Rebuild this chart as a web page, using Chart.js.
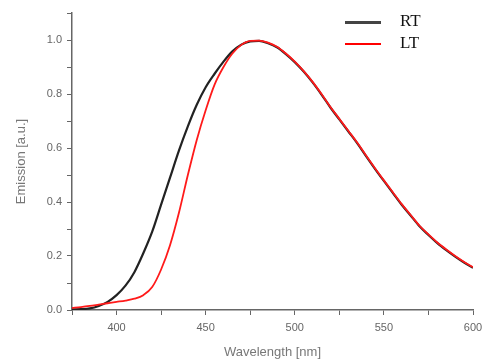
<!DOCTYPE html>
<html>
<head>
<meta charset="utf-8">
<script src="https://cdn.jsdelivr.net/npm/chart.js@4/dist/chart.umd.min.js"></script>
<style>
  html, body { margin: 0; padding: 0; background: #fff; }
  #wrap { position: relative; width: 486px; height: 360px; }
  #emissionChart { position: absolute; left: 0; top: 0; }
  .legend { position: absolute; left: 345px; font-family: "Liberation Serif", "DejaVu Serif", serif; font-size: 17px; color: #111; }
  .legend span.sw { position: absolute; left: 0; width: 36px; }
  .legend span.lbl { position: absolute; left: 55px; top: -11px; }
</style>
</head>
<body>
<div id="wrap">
  <canvas id="emissionChart" width="486" height="360"></canvas>
  <div class="legend" style="top:22px"><span class="sw" style="top:-1px;height:3px;background:#444"></span><span class="lbl">RT</span></div>
  <div class="legend" style="top:44px"><span class="sw" style="top:-1px;height:2px;background:#f00"></span><span class="lbl">LT</span></div>
</div>
<script>
// wavelength in nm
const wavelengths = [375, 380, 385, 390, 395, 400, 405, 410, 415, 420, 425, 430, 435, 440, 445,
  450, 455, 460, 465, 470, 475, 480, 485, 490, 495, 500, 505, 510, 515, 520, 525, 530, 535,
  540, 545, 550, 555, 560, 565, 570, 575, 580, 585, 590, 595, 600];

// room temperature emission
const rtEmission = [0.002, 0.003, 0.006, 0.015, 0.03, 0.055, 0.09, 0.14, 0.21, 0.29, 0.39, 0.49, 0.59, 0.68, 0.76,
  0.825, 0.875, 0.92, 0.958, 0.983, 0.995, 0.997, 0.988, 0.973, 0.948, 0.918, 0.883, 0.843, 0.798,
  0.75, 0.706, 0.662, 0.618, 0.57, 0.523, 0.478, 0.434, 0.39, 0.35, 0.31, 0.278, 0.248, 0.222, 0.198, 0.176, 0.156];

// low temperature emission
const ltEmission = [0.008, 0.011, 0.015, 0.02, 0.025, 0.03, 0.035, 0.042, 0.055, 0.085, 0.15, 0.24, 0.36, 0.5, 0.63,
  0.74, 0.835, 0.9, 0.95, 0.982, 0.997, 0.998, 0.99, 0.975, 0.95, 0.92, 0.885, 0.845, 0.8,
  0.752, 0.708, 0.664, 0.62, 0.572, 0.525, 0.48, 0.436, 0.392, 0.352, 0.312, 0.28, 0.25, 0.224, 0.2, 0.178, 0.158];

const xTicks = [400, 450, 500, 550, 600];

function toPoints(ys) {
  return wavelengths.map((x, i) => ({ x: x, y: ys[i] }));
}

const axisColor = '#666';
const labelColor = '#666';

new Chart(document.getElementById('emissionChart'), {
  type: 'line',
  data: {
    datasets: [
      {
        label: 'RT',
        data: toPoints(rtEmission),
        borderColor: '#222',
        borderWidth: 2.2,
        pointRadius: 0,
        cubicInterpolationMode: 'monotone',
        order: 1
      },
      {
        label: 'LT',
        data: toPoints(ltEmission),
        borderColor: '#ff1a1a',
        borderWidth: 1.8,
        pointRadius: 0,
        cubicInterpolationMode: 'monotone',
        order: 0
      }
    ]
  },
  options: {
    responsive: false,
    animation: false,
    layout: { padding: { top: 13, right: 13, left: 0, bottom: 0 } },
    plugins: {
      legend: { display: false },
      tooltip: { enabled: false }
    },
    scales: {
      x: {
        type: 'linear',
        min: 375,
        max: 600,
        afterFit: (scale) => {
          scale.height = 50;
          scale.paddingRight = 0;
          scale.paddingLeft = 0;
        },
        border: { color: axisColor, width: 1.5 },
        grid: { drawOnChartArea: false, drawTicks: true, tickLength: 5, tickColor: axisColor },
        ticks: {
          stepSize: 25,
          autoSkip: false,
          maxRotation: 0,
          color: labelColor,
          padding: 6,
          font: { family: 'Liberation Sans, Arial, sans-serif', size: 11 },
          callback: (v) => xTicks.includes(v) ? String(v) : ''
        },
        title: {
          display: true,
          text: 'Wavelength [nm]',
          color: '#777',
          padding: { top: 0, bottom: 0 },
          font: { family: 'Liberation Sans, Arial, sans-serif', size: 13 }
        }
      },
      y: {
        min: 0,
        max: 1.1,
        afterFit: (scale) => {
          scale.width = 72;
          scale.paddingTop = 0;
          scale.paddingBottom = 0;
        },
        border: { color: axisColor, width: 1.5 },
        grid: { drawOnChartArea: false, drawTicks: true, tickLength: 5, tickColor: axisColor },
        ticks: {
          stepSize: 0.1,
          autoSkip: false,
          color: labelColor,
          padding: 5,
          font: { family: 'Liberation Sans, Arial, sans-serif', size: 11 },
          callback: (v) => {
            const k = Math.round(v * 10);
            return (k % 2 === 0 && k <= 10) ? (k / 10).toFixed(1) : '';
          }
        },
        title: {
          display: true,
          text: 'Emission [a.u.]',
          color: '#777',
          padding: { top: 14, bottom: 0 },
          font: { family: 'Liberation Sans, Arial, sans-serif', size: 13 }
        }
      }
    }
  }
});
</script>
</body>
</html>
